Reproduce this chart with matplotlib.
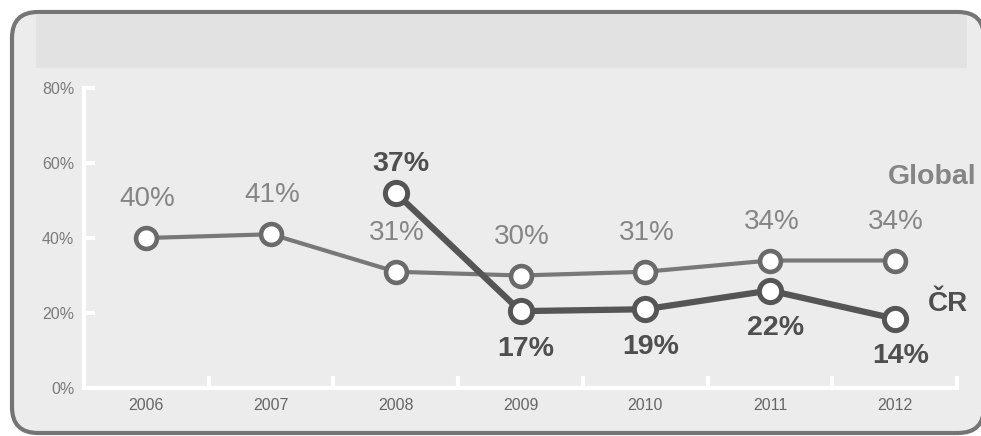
import matplotlib
matplotlib.use("Agg")
import matplotlib.pyplot as plt
from matplotlib.patches import FancyBboxPatch, Rectangle

plt.rcParams['font.family'] = ['Liberation Sans', 'DejaVu Sans']

# data
years = ['2006', '2007', '2008', '2009', '2010', '2011', '2012']
global_vals = [40, 41, 31, 30, 31, 34, 34]
global_labels = ['40%', '41%', '31%', '30%', '31%', '34%', '34%']
cr_years = ['2008', '2009', '2010', '2011', '2012']
cr_vals = [52, 20.5, 21, 26, 18.5]          # where the points sit on the axis
cr_labels = ['37%', '17%', '19%', '22%', '14%']
y_ticks = [0, 20, 40, 60, 80]

fig = plt.figure(figsize=(9.81, 4.36), dpi=100)
fig.patch.set_facecolor('white')

# rounded panel frame and grey header band (pixel coords)
frame = FancyBboxPatch((12, 3), 972, 421, boxstyle="round,pad=0,rounding_size=26",
                       transform=None, facecolor='#ececec', edgecolor='#757575',
                       linewidth=3, zorder=-3)
fig.patches.append(frame)
band = Rectangle((36, 368), 931, 53, transform=None, facecolor='#e2e2e2',
                 edgecolor='none', zorder=-2)
fig.patches.append(band)

ax = fig.add_axes([84 / 981, 1 - 388 / 436, (957 - 84) / 981, (388 - 88) / 436])
ax.patch.set_visible(False)

x_all = list(range(len(years)))
x_cr = [years.index(y) for y in cr_years]

# Global line
ax.plot(x_all, global_vals, color='#787878', linewidth=3, zorder=3,
        marker='o', markersize=15, markerfacecolor='white',
        markeredgecolor='#6a6a6a', markeredgewidth=3.3, clip_on=False)
# CR line
ax.plot(x_cr, cr_vals, color='#555555', linewidth=4.5, zorder=4,
        marker='o', markersize=16, markerfacecolor='white',
        markeredgecolor='#555555', markeredgewidth=3.6, clip_on=False)

for x, v, lab in zip(x_all, global_vals, global_labels):
    ax.annotate(lab, (x, v), xytext=(1, 28), textcoords='offset points',
                ha='center', va='center', fontsize=20, color='#858585')

for i, (x, v, lab) in enumerate(zip(x_cr, cr_vals, cr_labels)):
    dy = 21 if i == 0 else -27
    ax.annotate(lab, (x, v), xytext=(4, dy), textcoords='offset points',
                ha='center', va='center', fontsize=20.5, fontweight='bold',
                color='#4f4f4f')

ax.text(6.30, 56.3, 'Global', ha='center', va='center', fontsize=20.5,
        fontweight='bold', color='#858585')
ax.text(6.43, 22.5, 'ČR', ha='center', va='center', fontsize=20,
        fontweight='bold', color='#4f4f4f')

ax.set_xlim(-0.5, 6.5)
ax.set_ylim(0, 80)

for side in ['top', 'right']:
    ax.spines[side].set_visible(False)
for side in ['left', 'bottom']:
    ax.spines[side].set_color('white')
    ax.spines[side].set_linewidth(3)

ax.set_yticks(y_ticks)
ax.set_yticklabels([f'{t}%' for t in y_ticks])
ax.set_xticks([i + 0.5 for i in x_all])
ax.set_xticklabels([])
ax.set_xticks(x_all, minor=True)
ax.set_xticklabels(years, minor=True)

ax.tick_params(axis='y', direction='in', length=8, width=3, color='white',
               labelsize=11.5, labelcolor='#7a7a7a', pad=7)
ax.tick_params(axis='x', which='major', direction='in', length=9, width=3,
               color='white')
ax.tick_params(axis='x', which='minor', length=0, labelsize=11.5,
               labelcolor='#666666', pad=7)

fig.savefig('out.png', dpi=100)
